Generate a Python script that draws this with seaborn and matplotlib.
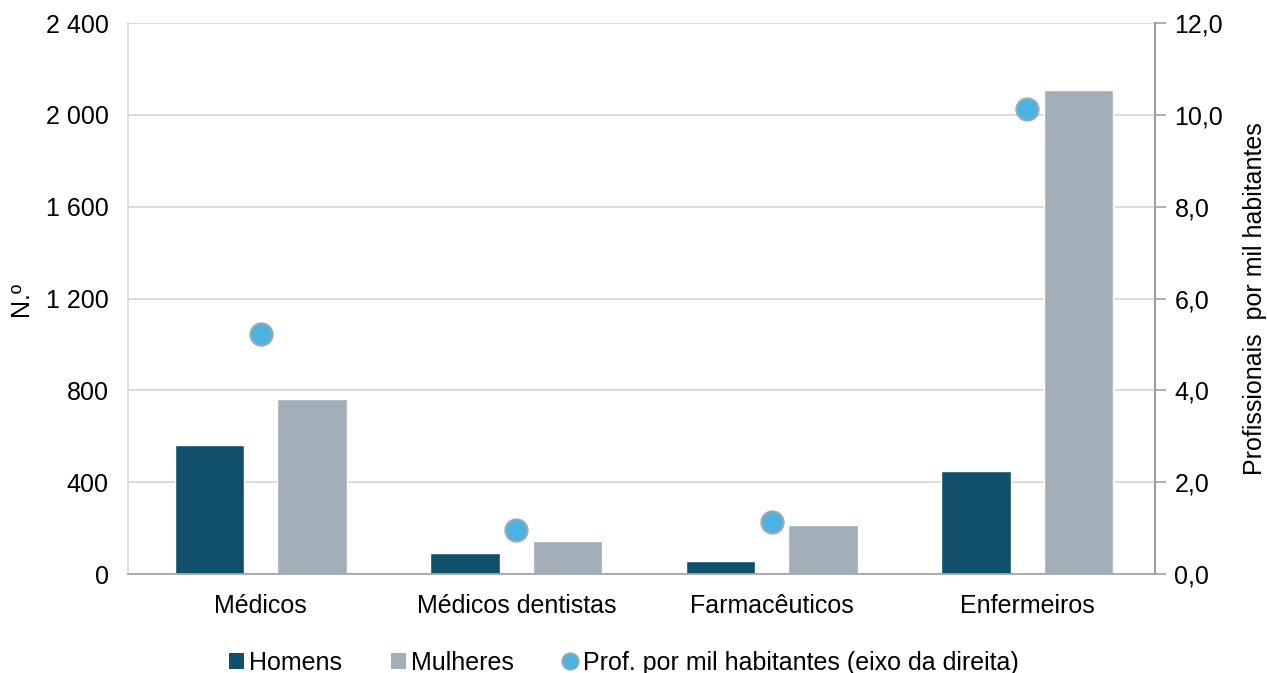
import matplotlib
matplotlib.use("Agg")
import matplotlib.pyplot as plt
import seaborn as sns
import pandas as pd
from matplotlib.ticker import FuncFormatter, MultipleLocator
from matplotlib.patches import Patch
from matplotlib.lines import Line2D

categorias = ["Médicos", "Médicos dentistas", "Farmacêuticos", "Enfermeiros"]
homens = [562, 91, 57, 449]
mulheres = [762, 144, 213, 2108]
por_mil = [5.23, 0.96, 1.13, 10.13]
series = ["Homens", "Mulheres"]

sns.set_theme(style="white")
plt.rcParams['font.family'] = ['Liberation Sans', 'DejaVu Sans']
plt.rcParams['text.color'] = 'black'
plt.rcParams['axes.labelcolor'] = 'black'
plt.rcParams['xtick.color'] = 'black'
plt.rcParams['ytick.color'] = 'black'

FS = 18

c_h = "#10506B"
c_m = "#A2AFB9"
c_d = "#4AB3E2"

df = pd.DataFrame({
    "cat": categorias * 2,
    "serie": [series[0]] * 4 + [series[1]] * 4,
    "valor": homens + mulheres,
})
df_p = pd.DataFrame({"cat": categorias, "v": por_mil})

fig = plt.figure(figsize=(12.67, 6.73), dpi=100)
ax = fig.add_axes([0.101, 0.147, 0.8106, 0.8188])

sns.barplot(data=df, x="cat", y="valor", hue="serie", order=categorias,
            hue_order=series, palette=[c_h, c_m], width=0.8, gap=0.32,
            saturation=1, ax=ax, legend=False)
ax.set_xlim(-0.52, 3.5)
ax.set_ylim(0, 2400)
ax.yaxis.set_major_locator(MultipleLocator(400))
ax.yaxis.set_major_formatter(FuncFormatter(lambda v, p: f"{int(v):,}".replace(",", " ")))
ax.grid(axis="y", color="#D9D9D9", linewidth=1.3)
ax.set_axisbelow(True)
ax.set_xlabel("")
ax.set_ylabel("N.º", fontsize=FS)
ax.yaxis.set_label_coords(-0.092, 0.5)
ax.tick_params(axis="y", labelsize=FS, length=0, pad=14)
ax.tick_params(axis="x", labelsize=FS, length=0, pad=14)
ax.spines["top"].set_visible(False)
ax.spines["left"].set_color("#D9D9D9")
ax.spines["bottom"].set_color("#A6A6A6")
ax.spines["bottom"].set_linewidth(1.3)

ax2 = ax.twinx()
sns.pointplot(data=df_p, x="cat", y="v", order=categorias, color=c_d,
              linestyle="none", markers="o", markersize=16, ax=ax2,
              errorbar=None)
for ln in ax2.lines:
    ln.set_markeredgecolor("#A0A8B0")
    ln.set_markeredgewidth(1.5)
    ln.set_zorder(5)
ax2.set_xlim(-0.52, 3.5)
ax2.set_ylim(0, 12)
ax2.yaxis.set_major_locator(MultipleLocator(2))
ax2.yaxis.set_major_formatter(FuncFormatter(lambda v, p: f"{v:.1f}".replace(".", ",")))
ax2.set_ylabel("Profissionais  por mil habitantes", fontsize=FS)
ax2.yaxis.set_label_coords(1.086, 0.5)
ax2.set_xlabel("")
ax2.tick_params(axis="y", labelsize=FS, length=8, color="#A6A6A6", labelcolor="black",
                pad=6, direction="out")
ax2.spines["right"].set_color("#A6A6A6")
ax2.spines["right"].set_linewidth(1.3)
for s in ["top", "left", "bottom"]:
    ax2.spines[s].set_visible(False)

handles = [
    Patch(facecolor=c_h, edgecolor="none"),
    Patch(facecolor=c_m, edgecolor="none"),
    Line2D([], [], marker="o", linestyle="none", color=c_d, markeredgecolor="#A0A8B0",
           markersize=12, markeredgewidth=1.2),
]
fig.legend(handles, ["Homens", "Mulheres", "Prof. por mil habitantes (eixo da direita)"],
           loc="lower center", bbox_to_anchor=(0.4925, -0.036), ncol=3, frameon=False,
           fontsize=FS, handlelength=0.6, handleheight=0.6, handletextpad=0.2,
           columnspacing=1.95)

fig.savefig("out.png", dpi=100)
